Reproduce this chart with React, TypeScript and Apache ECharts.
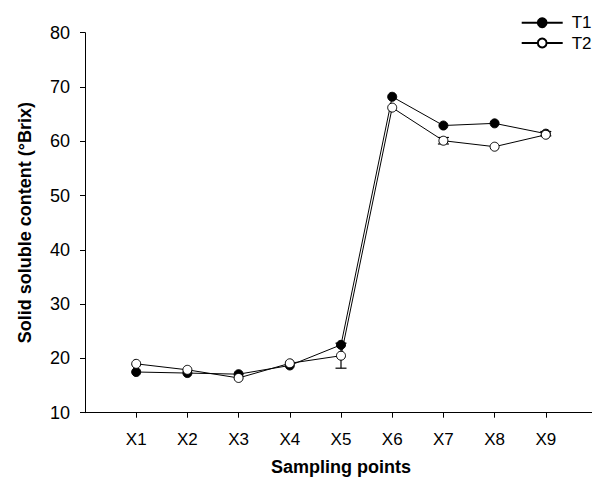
import React, { useEffect, useRef } from "react";
import * as echarts from "echarts";

const categories = ["", "X1", "X2", "X3", "X4", "X5", "X6", "X7", "X8", "X9", ""];
const t1Values = [null, 17.5, 17.3, 17.1, 18.7, 22.5, 68.2, 62.9, 63.3, 61.4, null];
const t2Values = [null, 19.0, 17.9, 16.4, 19.1, 20.5, 66.2, 60.1, 59.0, 61.2, null];
// [category index, low, high]
const t1Errors = [[9, 61.0, 61.8]];
const t2Errors = [[5, 18.2, 22.8], [7, 59.5, 60.7]];
const yTicks = { min: 10, max: 80, interval: 10 };

const FONT = "Liberation Sans, Arial, sans-serif";

function errorRender(params: any, api: any) {
  const x = api.value(0);
  const lo = api.coord([x, api.value(1)]);
  const hi = api.coord([x, api.value(2)]);
  const w = 5.5;
  const style = { stroke: "#000", lineWidth: 1.2 };
  return {
    type: "group",
    children: [
      { type: "line", shape: { x1: lo[0], y1: lo[1], x2: hi[0], y2: hi[1] }, style },
      { type: "line", shape: { x1: lo[0] - w, y1: lo[1], x2: lo[0] + w, y2: lo[1] }, style },
      { type: "line", shape: { x1: hi[0] - w, y1: hi[1], x2: hi[0] + w, y2: hi[1] }, style },
    ],
  };
}

export default function App() {
  const ref = useRef<HTMLDivElement>(null);
  useEffect(() => {
    if (!ref.current) return;
    const chart = echarts.init(ref.current, undefined, { renderer: "svg" });
    chart.setOption({
      animation: false,
      textStyle: { fontFamily: FONT },
      grid: { left: 72, right: -13, top: 24.7, bottom: 68.3, containLabel: false },
      legend: {
        left: 512.7,
        top: 6.2,
        padding: 0,
        orient: "vertical",
        itemWidth: 41,
        itemHeight: 11,
        itemGap: 3.3,
        textStyle: { fontSize: 17, color: "#000", fontFamily: FONT, lineHeight: 17, padding: [0, 0, 0, 4] },
        data: ["T1", "T2"],
      },
      xAxis: {
        type: "category",
        data: categories,
        boundaryGap: false,
        name: "Sampling points",
        nameLocation: "middle",
        nameGap: 45,
        nameTextStyle: { fontSize: 18, fontWeight: "bold", color: "#000", fontFamily: FONT },
        axisLine: { lineStyle: { color: "#000", width: 1 } },
        axisTick: { show: true, length: 5, inside: false, interval: (i: number) => i >= 1 && i <= 9, lineStyle: { color: "#000" } },
        axisLabel: { fontSize: 17, color: "#000", margin: 18, interval: 0, fontFamily: FONT },
        splitLine: { show: false },
      },
      yAxis: {
        type: "value",
        min: yTicks.min,
        max: yTicks.max,
        interval: yTicks.interval,
        name: "Solid soluble content (\u00b0Brix)",
        nameLocation: "middle",
        nameGap: 51,
        nameTextStyle: { fontSize: 18, fontWeight: "bold", color: "#000", fontFamily: FONT },
        axisLine: { show: true, lineStyle: { color: "#000", width: 1 } },
        axisTick: { show: true, length: 5, inside: false, lineStyle: { color: "#000" } },
        axisLabel: { fontSize: 18, color: "#000", margin: 15, fontFamily: FONT },
        splitLine: { show: false },
      },
      series: [
        { type: "custom", renderItem: errorRender, data: t1Errors, z: 1, silent: true },
        { type: "custom", renderItem: errorRender, data: t2Errors, z: 1, silent: true },
        {
          name: "T1",
          type: "line",
          data: t1Values,
          symbol: "circle",
          symbolSize: 9,
          lineStyle: { color: "#000", width: 1 },
          itemStyle: { color: "#000", borderColor: "#000", borderWidth: 1 },
          z: 3,
        },
        {
          name: "T2",
          type: "line",
          data: t2Values,
          symbol: "circle",
          symbolSize: 9,
          lineStyle: { color: "#000", width: 1 },
          itemStyle: { color: "#fff", borderColor: "#000", borderWidth: 1 },
          z: 4,
        },
      ],
    });
    return () => chart.dispose();
  }, []);
  return <div ref={ref} style={{ width: 592, height: 473 }} />;
}
